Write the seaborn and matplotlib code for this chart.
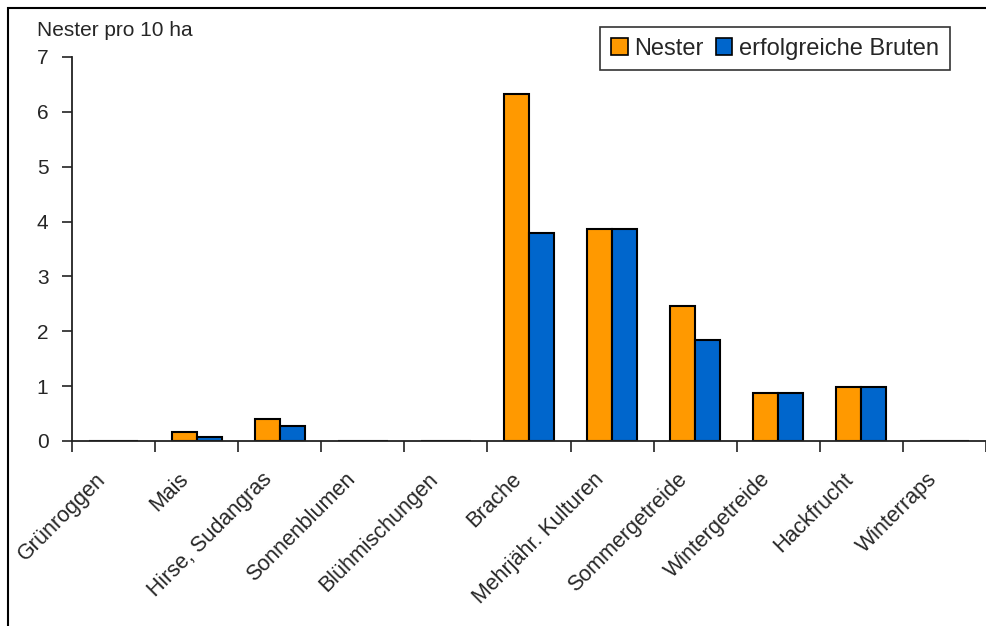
import matplotlib
matplotlib.use("Agg")
import matplotlib.pyplot as plt
from matplotlib.patches import Rectangle
import numpy as np
import pandas as pd
import seaborn as sns

# Crop types and nest densities (per 10 ha)
categories = ["Grünroggen", "Mais", "Hirse, Sudangras", "Sonnenblumen",
              "Blühmischungen", "Brache", "Mehrjähr. Kulturen",
              "Sommergetreide", "Wintergetreide", "Hackfrucht", "Winterraps"]
nester = [0, 0.17, 0.41, 0, 0, 6.33, 3.86, 2.46, 0.88, 0.98, 0]
bruten = [0, 0.07, 0.27, 0, 0, 3.79, 3.86, 1.84, 0.88, 0.98, 0]
series_names = ["Nester", "erfolgreiche Bruten"]
colors = ["#FF9900", "#0066CC"]
y_ticks = [0, 1, 2, 3, 4, 5, 6, 7]

df = pd.DataFrame({
    "Kultur": categories * 2,
    "Wert": nester + bruten,
    "Serie": [series_names[0]] * len(categories) + [series_names[1]] * len(categories),
})

sns.set_theme(style="white")
plt.rcParams["font.family"] = ["Liberation Sans", "DejaVu Sans"]

fig = plt.figure(figsize=(9.87, 6.26), dpi=100)
ax = fig.add_axes([72 / 987, (626 - 441) / 626, (986 - 72) / 987, (441 - 57) / 626])

sns.barplot(data=df, x="Kultur", y="Wert", hue="Serie", order=categories,
            hue_order=series_names, palette=colors, width=0.6,
            edgecolor="black", linewidth=1.5, saturation=1, ax=ax, legend=True)

ax.set_xlim(-0.5, len(categories) - 0.5)
ax.set_ylim(0, 7)
ax.set_yticks(y_ticks)
ax.set_yticklabels([str(t) for t in y_ticks], fontsize=15)
ax.set_xlabel("")
ax.set_ylabel("")

# boundary ticks between categories; rotated labels hang just left of each slot centre
ax.set_xticks(np.arange(-0.5, len(categories), 1.0))
ax.set_xticklabels([])
ax.set_xticks(np.arange(len(categories)) - 0.22, minor=True)
ax.set_xticklabels(categories, minor=True, rotation=45, ha="right",
                   rotation_mode="anchor", fontsize=15.5)
ax.tick_params(axis="x", which="major", direction="out", length=8, width=1.2,
               color="#222222", bottom=True)
ax.tick_params(axis="x", which="minor", length=0, pad=20)
ax.tick_params(axis="y", direction="out", length=7, width=1.2, color="#222222",
               left=True, pad=10)

for side in ["top", "right"]:
    ax.spines[side].set_visible(False)
for side in ["left", "bottom"]:
    ax.spines[side].set_color("#222222")
    ax.spines[side].set_linewidth(1.3)

fig.text(37 / 987, 1 - 30 / 626, "Nester pro 10 ha", fontsize=15,
         ha="left", va="center")

leg = ax.legend(loc="upper right", bbox_to_anchor=(950 / 987, 1 - 27 / 626),
                bbox_transform=fig.transFigure, ncol=2, fontsize=17,
                frameon=True, fancybox=False, edgecolor="black",
                handlelength=0.7, handleheight=0.7, handletextpad=0.3,
                columnspacing=0.5, borderpad=0.45, borderaxespad=0,
                title=None)
leg.get_frame().set_linewidth(1.2)
for h in leg.legend_handles:
    h.set_edgecolor("black")
    h.set_linewidth(1.2)

# outer chart frame
fig.add_artist(Rectangle((8 / 987, -0.05), 1.0, (626 - 8) / 626 + 0.05,
                         transform=fig.transFigure, fill=False,
                         edgecolor="black", linewidth=1.5))

fig.savefig("out.png", dpi=100)
